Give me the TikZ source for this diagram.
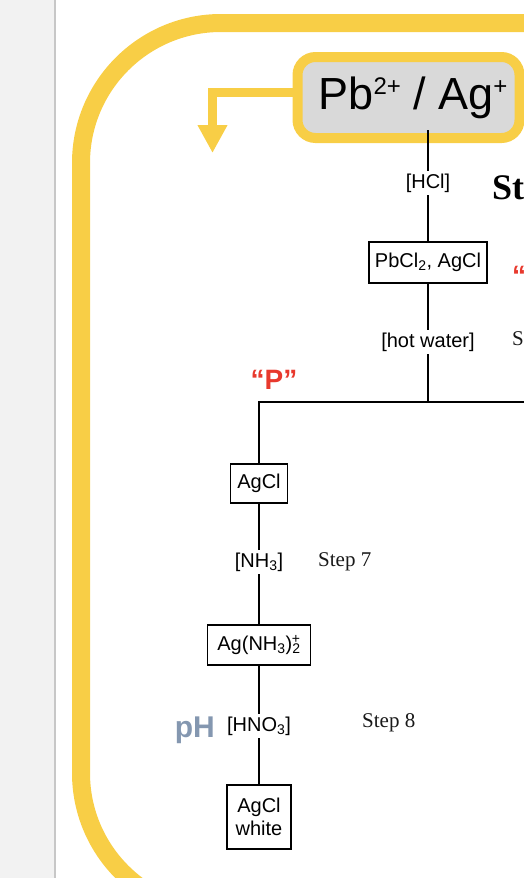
\documentclass[tikz,border=0pt]{standalone}
\usepackage{fontspec}
\setmainfont{Liberation Sans}
\newfontfamily\stepfont{Liberation Serif}
\usetikzlibrary{arrows.meta}
\definecolor{slideyellow}{RGB}{248,206,70}
\definecolor{panelgray}{RGB}{242,242,242}
\definecolor{ionred}{RGB}{232,57,45}
\definecolor{phblue}{RGB}{132,151,176}
\newcommand\ionsup[1]{\raisebox{15pt}{\fontsize{24}{24}\selectfont #1}}
\tikzset{
	chem/.style={draw, line width=1.8pt, inner sep=0pt, align=center,
		font=\fontsize{20}{23}\selectfont},
	reagent/.style={inner sep=2.5pt, font=\fontsize{20}{23}\selectfont},
	link/.style={line width=1.5pt},
	steptext/.style={anchor=base west, inner sep=0pt, text=black!90,
		font=\stepfont\fontsize{21}{24}\selectfont},
	redmark/.style={inner sep=0pt, text=ionred,
		font=\bfseries\fontsize{28}{30}\selectfont}
}

\begin{document}
\begin{tikzpicture}[x=1pt, y=-1pt] % 以像素为单位, y 轴向下
		\useasboundingbox (0, 0) rectangle (524, 878);
		\clip (0, 0) rectangle (524, 878);
		% 左边的灰色窗格
		\fill[panelgray] (0, 0) rectangle (54, 878);
		\draw[black!22, line width=2pt] (54.5, 0) -- (54.5, 878);
		% 黄色大框
		\draw[slideyellow, line width=18pt, rounded corners=140pt]
			(81, 23) rectangle (700, 913);
		% 顶部的离子框和黄色箭头
		\node[draw=slideyellow, fill=black!15, line width=10pt,
			rounded corners=18pt, minimum width=222pt, minimum height=81pt,
			inner sep=0pt, font=\fontsize{45}{50}\selectfont]
			(ions) at (408.5, 97.5)
			{\hspace*{9pt}Pb\ionsup{2+} / Ag\ionsup{+}};
		\coordinate (drop) at (212.5, 153);
		\draw[slideyellow, line width=9pt, -{Triangle[length=28pt, width=28pt]}]
			(ions.west |- 0, 92.5) -| (drop);
		% 右边一列: 第一次沉淀
		\node[reagent] (hcl) at (428, 183) {[HCl]};
		\node[chem, minimum width=118pt, minimum height=41pt]
			(pbcl) at (428, 262.5) {PbCl\textsubscript{2}, AgCl};
		\node[reagent] (hot) at (428, 342) {[hot water]};
		\coordinate (split) at (428, 402);
		\coordinate (eastend) at (540, 402);
		% 左边一列: AgCl
		\node[chem, minimum width=57pt, minimum height=39pt]
			(agcl) at (259, 483.5) {AgCl};
		\node[reagent] (nh) at (259, 562) {[NH\textsubscript{3}]};
		\node[chem, minimum width=103pt, minimum height=40pt]
			(agnh) at (259, 645)
			{Ag(NH\textsubscript{3})\textsubscript{2}\llap{\textsuperscript{+}}};
		\node[reagent] (hno) at (259, 726) {[HNO\textsubscript{3}]};
		\node[chem, minimum width=64pt, minimum height=64pt]
			(white) at (259, 817) {AgCl\\white};
		% 连线
		\draw[link] ([yshift=13pt]ions.south -| hcl) -- (hcl);
		\foreach \a/\b in {hcl/pbcl, pbcl/hot, hot/split,
			agcl/nh, nh/agnh, agnh/hno, hno/white}
			\draw[link] (\a) -- (\b);
		\draw[link] (agcl) |- (eastend);
		% 文字标注
		\node[redmark, anchor=base] (pmark) at (274, 389) {“P”};
		\node[steptext] (step7) at (318, 566) {Step 7};
		\node[steptext] (step8) at (362, 727) {Step 8};
		\node[anchor=base east, inner sep=0pt, text=phblue,
			font=\bfseries\fontsize{30}{32}\selectfont] (ph) at (215, 737) {pH};
		% 右边被截掉的文字
		\node[anchor=base west, inner sep=0pt,
			font=\stepfont\bfseries\fontsize{36}{40}\selectfont]
			(stepbig) at (492, 199) {St};
		\node[redmark, anchor=base west] (smark) at (512, 285) {“};
		\node[steptext] (stepsmall) at (512, 345) {St};
	\end{tikzpicture}
\end{document}
